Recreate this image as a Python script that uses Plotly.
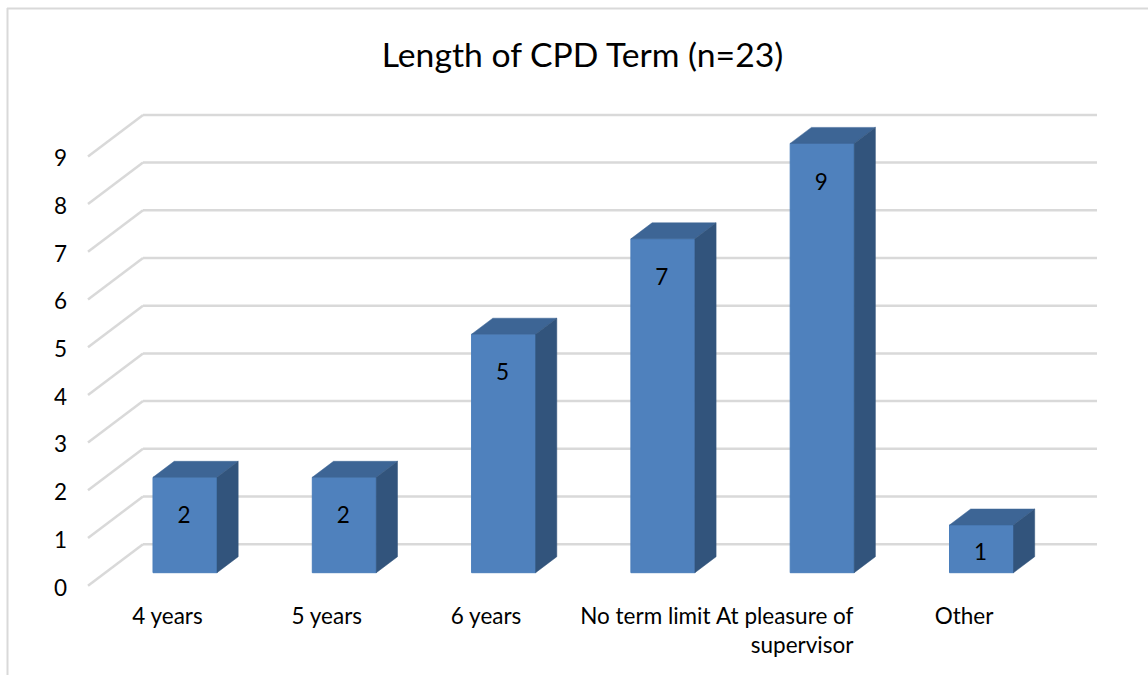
import plotly.graph_objects as go

categories = ["4 years", "5 years", "6 years", "No term limit", "At pleasure of<br>supervisor", "Other"]
values = [2, 2, 5, 7, 9, 1]
y_ticks = [0, 1, 2, 3, 4, 5, 6, 7, 8, 9]
title = "Length of CPD Term (n=23)"

W, H = 1148, 675
FONT = "Lato"
STEP = 159.3   # px per category
UNIT = 47.7    # px per value unit
X0, Y0 = 185.0, 585.7  # px of first category / value 0 on the front plane


def ux(px):
    return (px - X0) / STEP


def uy(py):
    return (Y0 - py) / UNIT


# depth vector of the floor, in data units
DX, DY = 55 / STEP, 41.5 / UNIT
BAR_D0 = 13 / 41.5
BAR_D = 16 / 41.5
BAR_W = 64 / STEP
LEFT, RIGHT = ux(88), ux(1097)

pos = list(range(len(categories)))
base = BAR_D0 * DY
bx0 = [p - BAR_W / 2 for p in pos]
bx1 = [p + BAR_W / 2 for p in pos]
ddx, ddy = BAR_D * DX, BAR_D * DY

shapes = []
for t in y_ticks:
    shapes.append(dict(type="line", xref="x", yref="y", layer="below",
                       x0=LEFT, y0=t, x1=LEFT + DX, y1=t + DY,
                       line=dict(color="#D9D9D9", width=2.5)))
    shapes.append(dict(type="line", xref="x", yref="y", layer="below",
                       x0=LEFT + DX, y0=t + DY, x1=RIGHT, y1=t + DY,
                       line=dict(color="#D9D9D9", width=2.5)))
shapes.append(dict(type="line", xref="paper", yref="paper", x0=7.5 / W, x1=7.5 / W, y0=0, y1=1 - 8 / H,
                   line=dict(color="#D9D9D9", width=2)))
shapes.append(dict(type="line", xref="paper", yref="paper", x0=7 / W, x1=1, y0=1 - 8.5 / H, y1=1 - 8.5 / H,
                   line=dict(color="#D9D9D9", width=2)))

fig = go.Figure()
fig.add_trace(go.Bar(x=pos, y=values, base=base, width=BAR_W,
                     marker=dict(color="#4F81BD", line=dict(color="#4A7EBB", width=1)),
                     showlegend=False, hoverinfo="y"))

top_x, top_y, side_x, side_y = [], [], [], []
for a, b, v in zip(bx0, bx1, values):
    t = v + base
    top_x += [a, b, b + ddx, a + ddx, a, None]
    top_y += [t, t, t + ddy, t + ddy, t, None]
    side_x += [b, b + ddx, b + ddx, b, b, None]
    side_y += [base, base + ddy, t + ddy, t, base, None]
fig.add_trace(go.Scatter(x=top_x, y=top_y, mode="lines", fill="toself", fillcolor="#3D6595",
                         line=dict(color="#3D6595", width=0.5), showlegend=False, hoverinfo="skip"))
fig.add_trace(go.Scatter(x=side_x, y=side_y, mode="lines", fill="toself", fillcolor="#32547C",
                         line=dict(color="#32547C", width=0.5), showlegend=False, hoverinfo="skip"))

label_x = [p - 1 / STEP for p in pos]
label_y = [v + base - min(0.85, v * 0.61) for v in values]
fig.add_trace(go.Scatter(x=label_x, y=label_y, mode="text", text=[str(v) for v in values],
                         textposition="middle center",
                         textfont=dict(family=FONT, size=22.5, color="#000000"),
                         showlegend=False, hoverinfo="skip"))

LABEL_SHIFT = 17.5 / STEP
tick_idx = [i for i in pos if "<br>" not in categories[i]]
fig.update_layout(
    width=W, height=H, autosize=False,
    margin=dict(l=0, r=0, t=0, b=0),
    paper_bgcolor="white", plot_bgcolor="white",
    barmode="overlay",
    title=dict(text=title, x=582.5 / W, xanchor="center", y=1 - 55 / H, yanchor="middle",
               font=dict(family=FONT, size=33.7, color="#000000")),
    xaxis=dict(range=[ux(0), ux(W)], domain=[0, 1], anchor="free", position=1 - 600 / H,
               tickmode="array", tickvals=[i - LABEL_SHIFT for i in tick_idx],
               ticktext=[categories[i] for i in tick_idx],
               showgrid=False, zeroline=False, showline=False, ticks="", ticklen=0,
               tickfont=dict(family=FONT, size=22.5, color="#000000")),
    yaxis=dict(range=[uy(H), uy(0)], domain=[0, 1], anchor="free", position=67 / W,
               tickmode="array", tickvals=y_ticks, ticktext=[str(t) for t in y_ticks],
               ticklabelshift=2,
               showgrid=False, zeroline=False, showline=False, ticks="", ticklen=0,
               tickfont=dict(family=FONT, size=22.5, color="#000000")),
    shapes=shapes,
    annotations=[dict(text=categories[4], xref="x", yref="paper",
                      x=ux(856), y=1 - 600 / H, xanchor="right", yanchor="top", align="right",
                      showarrow=False, font=dict(family=FONT, size=22.5, color="#000000"))],
)
fig.write_html("out.html", config=dict(displayModeBar=False),
               post_script="document.body.style.margin='0';document.documentElement.style.overflow='hidden';")
